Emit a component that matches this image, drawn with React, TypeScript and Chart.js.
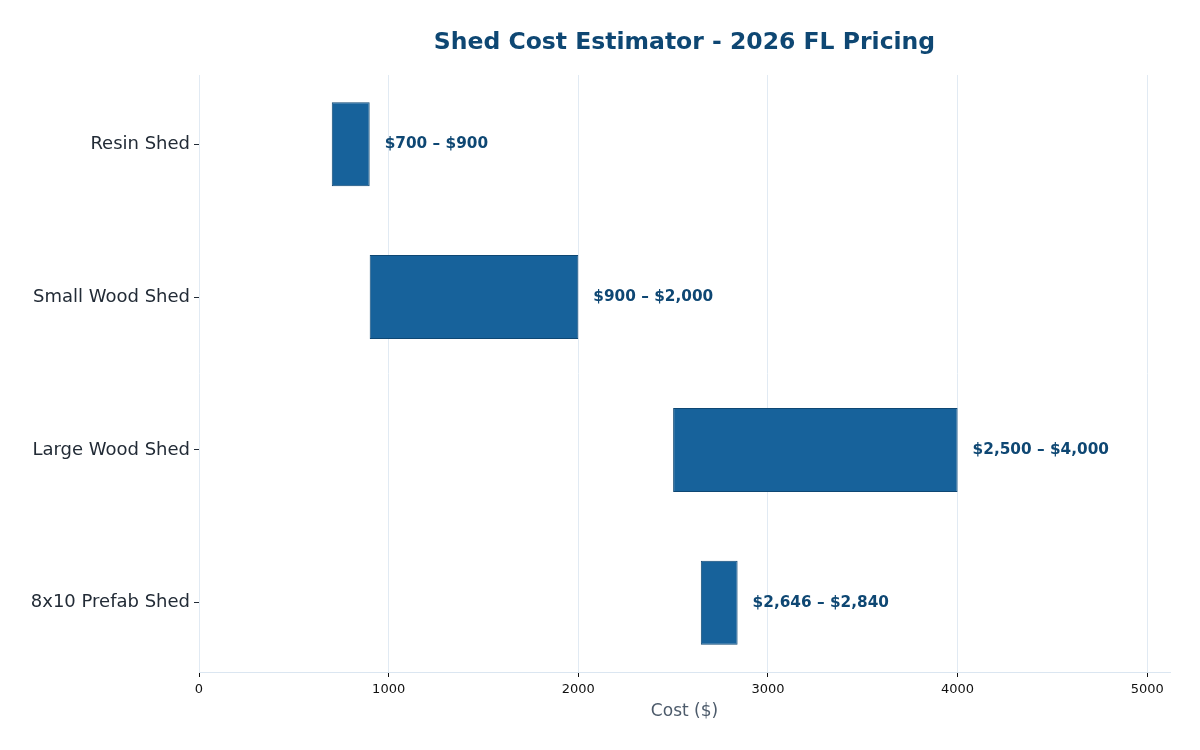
import React, { useEffect, useRef } from "react";
import { Chart, registerables } from "chart.js";

Chart.register(...registerables);

const categories = ["Resin Shed", "Small Wood Shed", "Large Wood Shed", "8x10 Prefab Shed"];
const lowCosts = [700, 900, 2500, 2646];
const highCosts = [900, 2000, 4000, 2840];
const xTicks = [0, 1000, 2000, 3000, 4000, 5000];

const TITLE = "Shed Cost Estimator - 2026 FL Pricing";
const FONT = "'DejaVu Sans', sans-serif";

const fmt = (v: number) => "$" + v.toLocaleString("en-US");

// Chart heading, centred over the plot area
const titlePlugin = {
  id: "titleText",
  afterDraw(chart: any) {
    const { ctx, chartArea } = chart;
    ctx.save();
    ctx.font = `bold 23.5px ${FONT}`;
    ctx.fillStyle = "#0e4773";
    ctx.textAlign = "center";
    ctx.textBaseline = "middle";
    ctx.fillText(TITLE, (chartArea.left + chartArea.right) / 2, 43);
    ctx.restore();
  },
};

// "$low – $high" text just right of each bar
const rangeLabels = {
  id: "rangeLabels",
  afterDatasetsDraw(chart: any) {
    const { ctx } = chart;
    const meta = chart.getDatasetMeta(0);
    ctx.save();
    ctx.font = `bold 15.3px ${FONT}`;
    ctx.fillStyle = "#0e4773";
    ctx.textAlign = "left";
    ctx.textBaseline = "middle";
    meta.data.forEach((bar: any, i: number) => {
      const right = Math.max(bar.x, bar.base);
      ctx.fillText(`${fmt(lowCosts[i])} – ${fmt(highCosts[i])}`, right + 15, bar.y);
    });
    ctx.restore();
  },
};

export default function App() {
  const canvasRef = useRef<HTMLCanvasElement>(null);

  useEffect(() => {
    if (!canvasRef.current) return;
    const chart = new Chart(canvasRef.current, {
      type: "bar",
      data: {
        datasets: [
          {
            data: categories.map((_, i) => ({ x: [lowCosts[i], highCosts[i]], y: i })) as any,
            backgroundColor: "#17629b",
            borderColor: "#0e4773",
            borderWidth: 1,
            borderSkipped: false,
            barPercentage: 0.55,
            categoryPercentage: 1,
          },
        ],
      },
      options: {
        indexAxis: "y",
        animation: false,
        responsive: false,
        devicePixelRatio: 1,
        layout: { padding: { top: 75, right: 30, left: 0, bottom: 0 } },
        plugins: { legend: { display: false }, tooltip: { enabled: false }, title: { display: false } },
        scales: {
          x: {
            type: "linear",
            min: 0,
            max: 5120,
            afterBuildTicks: (scale: any) => {
              scale.ticks = xTicks.map((v) => ({ value: v }));
            },
            afterFit: (scale: any) => {
              scale.height = 78;
            },
            ticks: {
              font: { family: FONT, size: 13 },
              color: "#111",
              padding: 5,
              callback: (v: any) => String(v),
            },
            grid: {
              color: "#e1eaf3",
              tickColor: "#111",
              tickLength: 5,
              lineWidth: 1,
            },
            border: { display: true, color: "#dbe6f1", width: 1 },
            title: {
              display: true,
              text: "Cost ($)",
              font: { family: FONT, size: 17 },
              color: "#4d5b6b",
              padding: { top: 6, bottom: 28 },
            },
          },
          y: {
            type: "linear",
            reverse: true,
            offset: false,
            min: -0.4525,
            max: 3.4525,
            afterBuildTicks: (scale: any) => {
              scale.ticks = categories.map((_, i) => ({ value: i }));
            },
            afterFit: (scale: any) => {
              scale.width = 199;
            },
            ticks: {
              font: { family: FONT, size: 18 },
              color: "#222b36",
              padding: 4,
              callback: (v: any) => categories[v] ?? "",
            },
            grid: {
              offset: false,
              drawOnChartArea: false,
              tickColor: "#222b36",
              tickLength: 5,
            },
            border: { display: false },
          },
        },
      },
      plugins: [titlePlugin, rangeLabels],
    });
    return () => chart.destroy();
  }, []);

  return (
    <div style={{ position: "fixed", left: 0, top: 0, width: 1200, height: 750, background: "#fff" }}>
      <canvas ref={canvasRef} width={1200} height={750} />
    </div>
  );
}
